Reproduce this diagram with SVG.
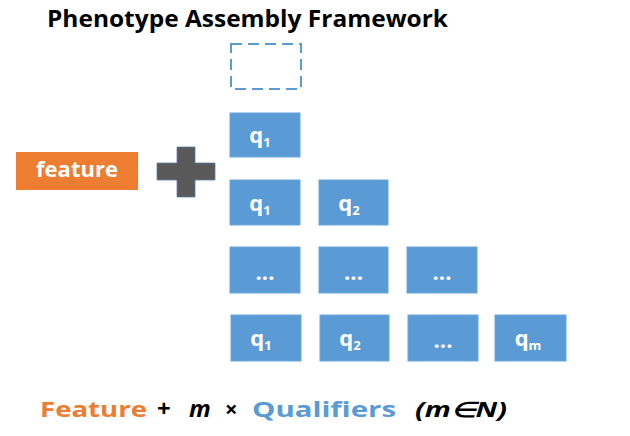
<svg xmlns="http://www.w3.org/2000/svg" width="630" height="436" viewBox="0 0 630 436">
<style>
.q{fill:#5B9BD5;stroke:#6AA5DA;stroke-width:1}
.t{font-family:"Open Sans","Liberation Sans",sans-serif;font-weight:bold;fill:#ffffff;text-anchor:middle}
.lb{font-size:22px}
.sb{font-size:13px}
.dt{font-size:22px}
.bt{font-family:"Open Sans","Liberation Sans",sans-serif;font-weight:bold}
</style>
<rect width="630" height="436" fill="#ffffff"/>
<text x="47" y="27" font-family="'Open Sans','Liberation Sans',sans-serif" font-weight="bold" font-size="23" fill="#000" textLength="401" lengthAdjust="spacingAndGlyphs">Phenotype Assembly Framework</text>
<g id="empty-slot"><rect x="231" y="44" width="70" height="45" fill="none" stroke="#5B9BD5" stroke-width="2" stroke-dasharray="11 6"/></g>
<g id="feature"><rect x="16" y="152" width="122" height="38" fill="#ED7D31"/><text class="t" x="77" y="177" font-size="22">feature</text></g>
<g id="plus"><polygon points="177,147 195,147 195,163 215,163 215,180 195,180 195,197 177,197 177,180 157,180 157,163 177,163" fill="#595959" stroke="#5B7FA8" stroke-width="0.8"/></g>
<g id="r1c1"><rect class="q" x="230" y="113" width="70" height="44"/><text class="t lb" x="260" y="143">q<tspan class="sb" dy="4">1</tspan></text></g>
<g id="r2c1"><rect class="q" x="230" y="180" width="70" height="45"/><text class="t lb" x="260" y="211">q<tspan class="sb" dy="4">1</tspan></text></g>
<g id="r2c2"><rect class="q" x="319" y="180" width="69" height="45"/><text class="t lb" x="349" y="211">q<tspan class="sb" dy="4">2</tspan></text></g>
<g id="r3c1"><rect class="q" x="230" y="247" width="70" height="46"/><text class="t dt" x="265" y="280">...</text></g>
<g id="r3c2"><rect class="q" x="319" y="247" width="69" height="46"/><text class="t dt" x="353.5" y="280">...</text></g>
<g id="r3c3"><rect class="q" x="407" y="247" width="70" height="46"/><text class="t dt" x="442" y="280">...</text></g>
<g id="r4c1"><rect class="q" x="231" y="315" width="70" height="46"/><text class="t lb" x="261" y="346">q<tspan class="sb" dy="4">1</tspan></text></g>
<g id="r4c2"><rect class="q" x="320" y="315" width="69" height="46"/><text class="t lb" x="350" y="346">q<tspan class="sb" dy="4">2</tspan></text></g>
<g id="r4c3"><rect class="q" x="408" y="315" width="70" height="46"/><text class="t dt" x="443" y="348">...</text></g>
<g id="r4c4"><rect class="q" x="495" y="315" width="71" height="46"/><text class="t lb" x="528" y="346">q<tspan class="sb" dy="4">m</tspan></text></g>
<g id="formula">
<text class="bt" x="40" y="417" font-size="21" fill="#ED7D31" textLength="107" lengthAdjust="spacingAndGlyphs">Feature</text>
<text class="bt" x="157" y="417" font-size="24" fill="#000">+</text>
<text class="bt" x="189" y="417" font-size="24" fill="#000" font-style="italic">m</text>
<text class="bt" x="225" y="417" font-size="22" fill="#000">×</text>
<text class="bt" x="252" y="417" font-size="21" fill="#5B9BD5" textLength="144" lengthAdjust="spacingAndGlyphs">Qualifiers</text>
<text class="bt" x="415" y="417" font-size="21" fill="#000" font-style="italic" textLength="92" lengthAdjust="spacingAndGlyphs">(m∈N)</text>
</g>
</svg>
